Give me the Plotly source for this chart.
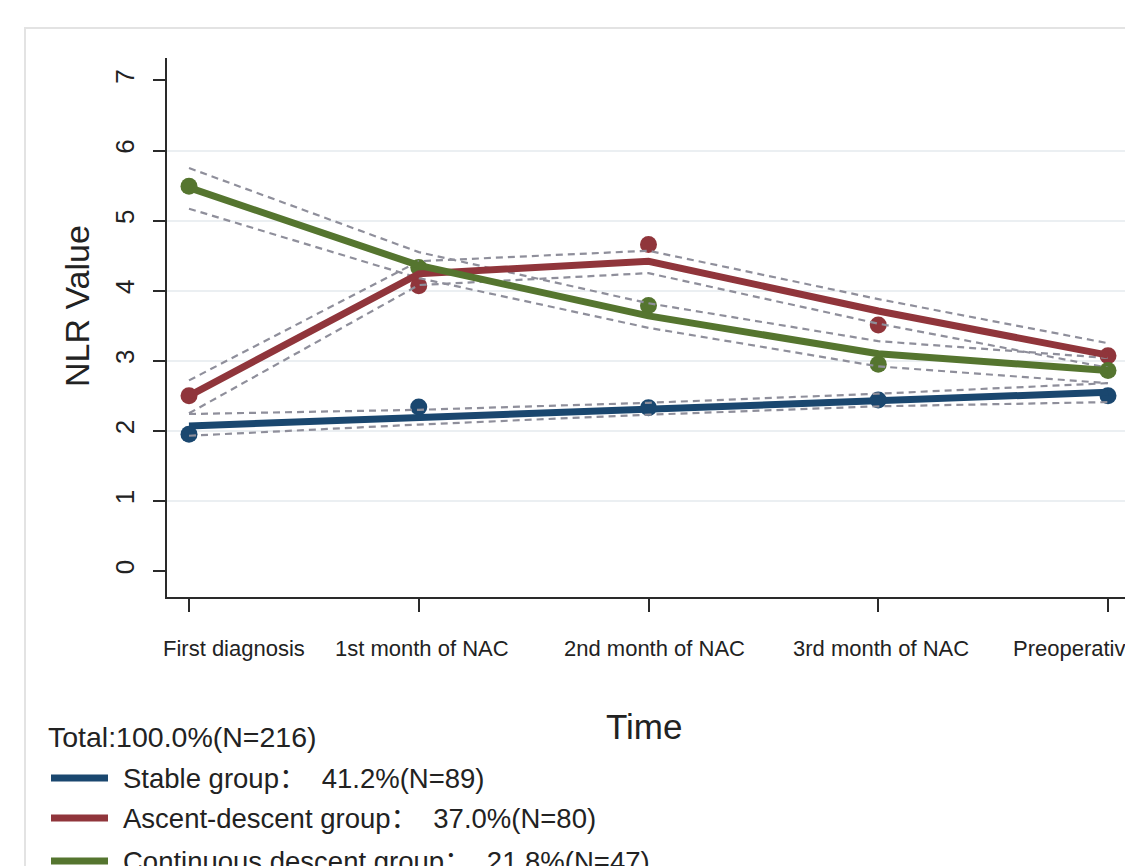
import plotly.graph_objects as go

# ---------------- data ----------------
time_labels = ["First diagnosis", "1st month of NAC", "2nd month of NAC",
               "3rd month of NAC", "Preoperative"]
time_idx = [0, 1, 2, 3, 4]

stable_fit = [2.07, 2.19, 2.31, 2.44, 2.55]
stable_lo = [1.93, 2.09, 2.23, 2.35, 2.41]
stable_hi = [2.24, 2.30, 2.40, 2.53, 2.68]
stable_obs = [1.95, 2.34, 2.33, 2.44, 2.50]

ascent_fit = [2.50, 4.24, 4.42, 3.71, 3.08]
ascent_lo = [2.25, 4.08, 4.25, 3.53, 2.90]
ascent_hi = [2.72, 4.42, 4.57, 3.88, 3.25]
ascent_obs = [2.50, 4.07, 4.66, 3.51, 3.07]

descent_fit = [5.47, 4.36, 3.64, 3.10, 2.86]
descent_lo = [5.17, 4.18, 3.47, 2.92, 2.68]
descent_hi = [5.75, 4.55, 3.82, 3.28, 3.04]
descent_obs = [5.49, 4.33, 3.79, 2.95, 2.86]

y_ticks = [0, 1, 2, 3, 4, 5, 6, 7]
grid_ticks = [1, 2, 3, 4, 5, 6]

legend_total = "Total:100.0%(N=216)"
group_names = ["Stable group：  41.2%(N=89)",
               "Ascent-descent group：  37.0%(N=80)",
               "Continuous descent group：  21.8%(N=47)"]

# ---------------- style ----------------
NAVY = "#1a476f"
MAROON = "#90353b"
GREEN = "#55752f"
CI_COL = "#8f8f9b"
FONT = "Liberation Sans, Noto Sans CJK SC, sans-serif"
TXT = "#222222"

W, H = 1125, 866
ML, MR, MT, MB = 167, 0, 58, 269
PW = W - ML - MR
PH = H - MT - MB

# horizontal offsets (px) of the time labels relative to their ticks
label_offsets = [45, 3, 6, 3, -33]


def px(x):
    return (x - ML) / PW


def py(y):
    return (H - MB - y) / PH


groups = [
    (stable_fit, stable_lo, stable_hi, stable_obs, NAVY),
    (ascent_fit, ascent_lo, ascent_hi, ascent_obs, MAROON),
    (descent_fit, descent_lo, descent_hi, descent_obs, GREEN),
]

fig = go.Figure()

# observed markers
for fit, lo, hi, obs, col in groups:
    fig.add_trace(go.Scatter(x=time_idx, y=obs, mode="markers",
                             marker=dict(size=17, color=col),
                             showlegend=False, hoverinfo="skip"))
# confidence bands (dashed)
for fit, lo, hi, obs, col in groups:
    for band in (lo, hi):
        fig.add_trace(go.Scatter(x=time_idx, y=band, mode="lines",
                                 line=dict(color=CI_COL, width=2.2, dash="7px,5px"),
                                 showlegend=False, hoverinfo="skip"))
# fitted trajectories
for fit, lo, hi, obs, col in groups:
    fig.add_trace(go.Scatter(x=time_idx, y=fit, mode="lines",
                             line=dict(color=col, width=7),
                             showlegend=False, hoverinfo="skip"))

# invisible trace for the grid overlay axis
fig.add_trace(go.Scatter(x=[time_idx[0]], y=[grid_ticks[0]], yaxis="y2",
                         mode="markers", marker=dict(opacity=0),
                         showlegend=False, hoverinfo="skip"))

y_range = [-0.371, 7.32]
x_range = [-0.0958, 4.074]

fig.update_layout(
    width=W, height=H,
    margin=dict(l=ML, r=MR, t=MT, b=MB, pad=0, autoexpand=False),
    paper_bgcolor="white",
    plot_bgcolor="rgba(0,0,0,0)",
    font=dict(family=FONT, color=TXT),
    showlegend=False,
    xaxis=dict(
        range=x_range, tickvals=time_idx, ticktext=time_labels,
        showticklabels=False,
        showgrid=False, zeroline=False, automargin=False,
        showline=True, linecolor="#2a2a2a", linewidth=2,
        ticks="outside", ticklen=13, tickwidth=1.6, tickcolor="#2a2a2a",
    ),
    yaxis=dict(
        range=y_range, tickvals=y_ticks, automargin=False,
        showgrid=False, zeroline=False,
        showline=True, linecolor="#2a2a2a", linewidth=2,
        ticks="outside", ticklen=12, tickwidth=1.6, tickcolor="#2a2a2a",
        tickangle=-90, tickfont=dict(size=26, color=TXT, family=FONT),
        ticklabelstandoff=9,
    ),
    yaxis2=dict(
        range=y_range, overlaying="y", tickvals=grid_ticks, automargin=False,
        showgrid=True, gridcolor="#ebeff2", gridwidth=2,
        showticklabels=False, ticks="", zeroline=False, showline=False,
    ),
)

# time labels under the ticks
for t, lab, off in zip(time_idx, time_labels, label_offsets):
    fig.add_annotation(text=lab, xref="x", yref="paper", x=t, y=py(648),
                       xshift=off, xanchor="center", yanchor="middle",
                       showarrow=False,
                       font=dict(size=22, color=TXT, family=FONT))

# x axis title
fig.add_annotation(text="Time", xref="paper", yref="paper",
                   x=px(644), y=py(726), xanchor="center", yanchor="middle",
                   showarrow=False, font=dict(size=35, color=TXT, family=FONT))

# outer panel border (graph region)
fig.add_shape(type="rect", xref="paper", yref="paper",
              x0=px(25), x1=px(1200), y0=py(28), y1=py(1000),
              line=dict(color="#e3e3e3", width=2), layer="below")

# y axis title
fig.add_annotation(text="NLR Value", xref="paper", yref="paper",
                   x=px(77), y=py(306), xanchor="center", yanchor="middle",
                   textangle=-90, showarrow=False,
                   font=dict(size=34, color=TXT, family=FONT))

# legend block
fig.add_annotation(text=legend_total, xref="paper", yref="paper",
                   x=px(46), y=py(737), xanchor="left", yanchor="middle",
                   showarrow=False, font=dict(size=28.5, color=TXT, family=FONT))
legend_rows = [778, 818, 861]
for name, (fit, lo, hi, obs, col), ry in zip(group_names, groups, legend_rows):
    fig.add_shape(type="line", xref="paper", yref="paper",
                  x0=px(51), x1=px(108), y0=py(ry), y1=py(ry),
                  line=dict(color=col, width=7))
    fig.add_annotation(text=name, xref="paper", yref="paper",
                       x=px(121), y=py(ry), xanchor="left", yanchor="middle",
                       showarrow=False,
                       font=dict(size=27.5, color=TXT, family=FONT))

fig.write_html(
    "out.html",
    config={"displayModeBar": False},
    post_script="document.body.style.margin='0';"
                "document.body.style.overflow='hidden';",
)
